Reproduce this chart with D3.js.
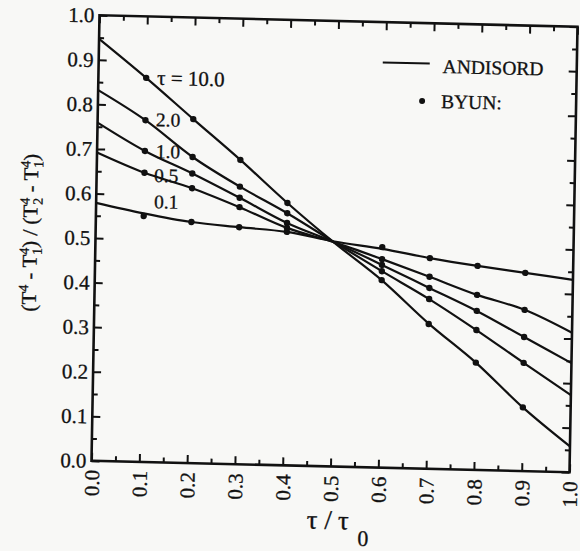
<!DOCTYPE html>
<html>
<head>
<meta charset="utf-8">
<title>ANDISORD vs BYUN</title>
<style>
  body { margin: 0; background: #f8f8f6; }
  svg { display: block; }
  text { font-family: "Liberation Serif", "Times New Roman", serif; fill: #111; stroke: #111; stroke-width: 0.3px; }
</style>
</head>
<body>
<svg width="580" height="551"></svg>
<script src="https://d3js.org/d3.v7.min.js"></script>
<script>
// ANDISORD curves, read at tau/tau0 = 0, 0.1, ... 1.0
var xLine = [0, 0.1, 0.2, 0.3, 0.4, 0.5, 0.6, 0.7, 0.8, 0.9, 1.0];
var line10 = [0.947, 0.862, 0.772, 0.683, 0.589, 0.502, 0.421, 0.326, 0.241, 0.143, 0.058];
var line2 = [0.832, 0.767, 0.687, 0.623, 0.566, 0.503, 0.441, 0.381, 0.314, 0.243, 0.173];
var line1 = [0.759, 0.698, 0.650, 0.598, 0.544, 0.503, 0.455, 0.406, 0.357, 0.301, 0.245];
var line05 = [0.692, 0.649, 0.617, 0.577, 0.533, 0.503, 0.468, 0.431, 0.393, 0.362, 0.313];
var line01 = [0.579, 0.558, 0.541, 0.532, 0.524, 0.505, 0.491, 0.473, 0.458, 0.445, 0.432];

// BYUN points
var xPts = [0.1, 0.2, 0.3, 0.4, 0.6, 0.7, 0.8, 0.9];
var pts10 = [0.862, 0.772, 0.683, 0.589, 0.421, 0.325, 0.241, 0.143];
var pts2 = [0.767, 0.687, 0.623, 0.566, 0.441, 0.381, 0.314, 0.243];
var pts1 = [0.698, 0.650, 0.598, 0.544, 0.455, 0.406, 0.357, 0.301];
var pts05 = [0.649, 0.617, 0.577, 0.533, 0.468, 0.431, 0.393, 0.362];
var pts01 = [0.552, 0.541, 0.532, 0.524, 0.495, 0.473, 0.458, 0.445];

var tauLabels = ["\u03c4  = 10.0", "2.0", "1.0", "0.5", "0.1"];
var labelX = [0.123, 0.122, 0.123, 0.120, 0.121];
var labelY = [0.847, 0.754, 0.683, 0.629, 0.570];

var majorTicks = [0, 0.1, 0.2, 0.3, 0.4, 0.5, 0.6, 0.7, 0.8, 0.9, 1.0];
var minorTicks = [0.05, 0.15, 0.25, 0.35, 0.45, 0.55, 0.65, 0.75, 0.85, 0.95];

var W = 478, H = 445.5;
var svg = d3.select("svg");
// the scanned figure is slightly skewed, so the whole plot sits in a tilted frame
var g = svg.append("g")
  .attr("transform", "matrix(1," + (11.5 / W) + "," + (-8 / H) + ",1,99.5,15.25)");

var x = d3.scaleLinear().domain([0, 1]).range([0, W]);
var y = d3.scaleLinear().domain([0, 1]).range([H, 0]);
var fmt = d3.format(".1f");

function styleAxis(sel) {
  sel.select(".domain").remove();
  sel.selectAll("line").attr("stroke", "#111").attr("stroke-width", 2);
}

// major + minor ticks on all four sides, all pointing inward
g.append("g").call(d3.axisLeft(y).tickValues(majorTicks).tickSize(-8).tickPadding(5).tickFormat(fmt))
  .call(styleAxis)
  .selectAll("text").style("font-size", "21px").style("font-family", null)
  .attr("fill", null);
g.append("g").call(d3.axisLeft(y).tickValues(minorTicks).tickSize(-5).tickFormat("")).call(styleAxis);

var bottom = g.append("g").attr("transform", "translate(0," + H + ")")
  .call(d3.axisBottom(x).tickValues(majorTicks).tickSize(-8).tickFormat(fmt))
  .call(styleAxis);
bottom.selectAll("text")
  .attr("y", 0).attr("x", -9).attr("dy", "0.35em")
  .attr("transform", "rotate(-90)").attr("fill", null)
  .style("text-anchor", "end").style("font-size", "21px").style("font-family", null);
g.append("g").attr("transform", "translate(0," + H + ")")
  .call(d3.axisBottom(x).tickValues(minorTicks).tickSize(-5).tickFormat("")).call(styleAxis);

g.append("g").call(d3.axisTop(x).tickValues(majorTicks).tickSize(-8).tickFormat("")).call(styleAxis);
g.append("g").call(d3.axisTop(x).tickValues(minorTicks).tickSize(-5).tickFormat("")).call(styleAxis);
g.append("g").attr("transform", "translate(" + W + ",0)")
  .call(d3.axisRight(y).tickValues(majorTicks).tickSize(-8).tickFormat("")).call(styleAxis);
g.append("g").attr("transform", "translate(" + W + ",0)")
  .call(d3.axisRight(y).tickValues(minorTicks).tickSize(-5).tickFormat("")).call(styleAxis);

g.append("rect")
  .attr("x", 0).attr("y", 0).attr("width", W).attr("height", H)
  .attr("fill", "none").attr("stroke", "#111").attr("stroke-width", 2.6);

// curves
var lines = [line10, line2, line1, line05, line01];
var pts = [pts10, pts2, pts1, pts05, pts01];
var lineGen = d3.line()
  .x(function (d, i) { return x(xLine[i]); })
  .y(function (d) { return y(d); })
  .curve(d3.curveMonotoneX);

g.selectAll(".curve").data(lines).enter().append("path")
  .attr("class", "curve")
  .attr("d", lineGen)
  .attr("fill", "none").attr("stroke", "#111").attr("stroke-width", 2.2);

pts.forEach(function (p) {
  g.selectAll(null).data(p).enter().append("circle")
    .attr("cx", function (d, i) { return x(xPts[i]); })
    .attr("cy", function (d) { return y(d); })
    .attr("r", 3.2).attr("fill", "#111");
});

g.selectAll(".tau").data(tauLabels).enter().append("text")
  .attr("class", "tau")
  .attr("x", function (d, i) { return x(labelX[i]); })
  .attr("y", function (d, i) { return y(labelY[i]); })
  .style("font-size", function (d, i) { return i === 0 ? "21px" : "19.5px"; })
  .text(function (d) { return d; });

// legend
g.append("line").attr("x1", 284).attr("x2", 331).attr("y1", 40.4).attr("y2", 40.4)
  .attr("stroke", "#111").attr("stroke-width", 2);
g.append("text").attr("x", 344).attr("y", 49.5).style("font-size", "19.5px").text("ANDISORD");
g.append("circle").attr("cx", 324).attr("cy", 78).attr("r", 3).attr("fill", "#111");
g.append("text").attr("x", 343).attr("y", 84.5).style("font-size", "19.5px").text("BYUN:");

// axis titles
var xt = g.append("text").attr("x", 216).attr("y", 508).style("font-size", "27px");
xt.append("tspan").text("\u03c4");
xt.append("tspan").attr("dx", 7).text("/");
xt.append("tspan").attr("dx", 6).text("\u03c4");
xt.append("tspan").attr("dx", 9).attr("dy", 16).style("font-size", "22px").text("0");

var yt = g.append("text")
  .attr("transform", "translate(-58.5,219) rotate(-90)")
  .style("text-anchor", "middle").style("font-size", "21px");
var yParts = [
  { t: "(T", dx: 0, dy: 0, s: 21 },
  { t: "4", dx: 0, dy: -8, s: 14 },
  { t: " - T", dx: 0, dy: 8, s: 21 },
  { t: "1", dx: 0, dy: 5, s: 14 },
  { t: "4", dx: -7, dy: -13, s: 14 },
  { t: ") / (T", dx: 0, dy: 8, s: 21 },
  { t: "2", dx: 0, dy: 5, s: 14 },
  { t: "4", dx: -7, dy: -13, s: 14 },
  { t: " - T", dx: 0, dy: 8, s: 21 },
  { t: "1", dx: 0, dy: 5, s: 14 },
  { t: "4", dx: -7, dy: -13, s: 14 },
  { t: ")", dx: 0, dy: 8, s: 21 }
];
yt.selectAll("tspan").data(yParts).enter().append("tspan")
  .attr("dx", function (d) { return d.dx; })
  .attr("dy", function (d) { return d.dy; })
  .style("font-size", function (d) { return d.s + "px"; })
  .text(function (d) { return d.t; });
</script>
</body>
</html>
